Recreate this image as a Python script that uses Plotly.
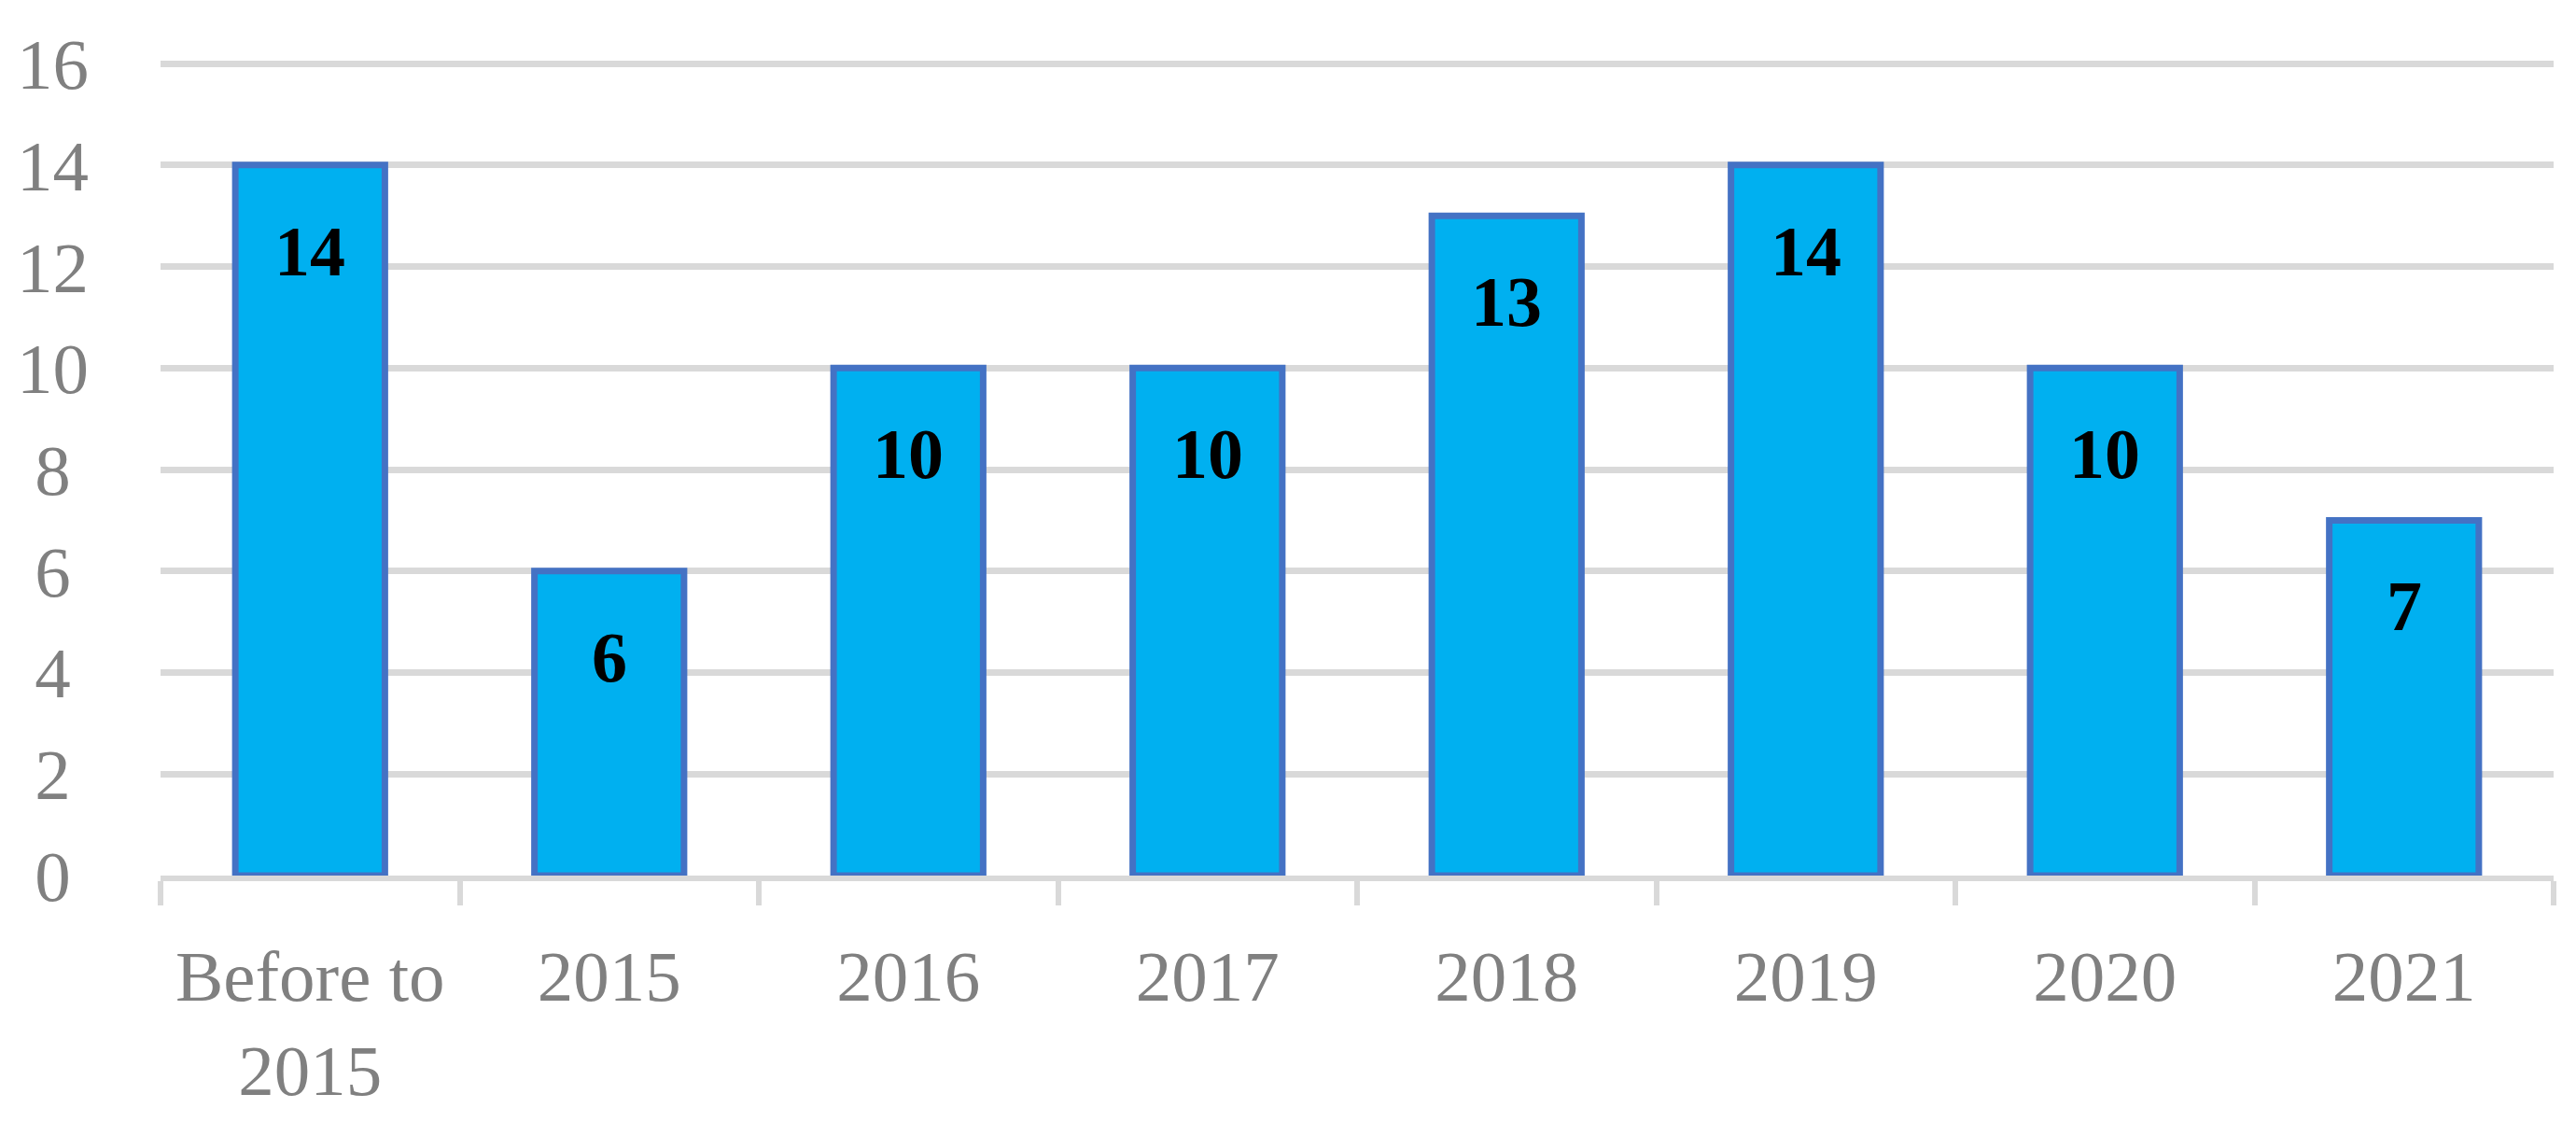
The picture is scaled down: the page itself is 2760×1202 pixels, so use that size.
import plotly.graph_objects as go

categories = ["Before to<br>2015", "2015", "2016", "2017", "2018", "2019", "2020", "2021"]
values = [14, 6, 10, 10, 13, 14, 10, 7]
y_ticks = [0, 2, 4, 6, 8, 10, 12, 14, 16]
# single digits padded with a quarter-em space so labels look centred like the reference
y_ticktext = [str(t) if t >= 10 else str(t) + "\u2005" for t in y_ticks]

FONT = "Liberation Serif, Times New Roman, serif"
GRID = "#D9D9D9"

fig = go.Figure()
fig.add_trace(go.Bar(
    x=categories, y=values,
    marker=dict(color="#00B0F0", line=dict(color="#4472C4", width=7)),
    hoverinfo="skip",
))

for i, v in enumerate(values):
    fig.add_annotation(
        x=i, y=v, text=f"<b>{v}</b>", showarrow=False,
        yanchor="middle", yshift=-92,
        font=dict(family=FONT, size=76, color="#000000"),
    )

fig.update_layout(
    width=2760, height=1202,
    margin=dict(l=172, r=24, t=67, b=255),
    paper_bgcolor="white", plot_bgcolor="white",
    bargap=0.5, showlegend=False,
    font=dict(family=FONT, size=77, color="#808080"),
)
fig.update_xaxes(
    type="category", range=[-0.5, len(categories) - 0.5],
    showline=True, linecolor=GRID, linewidth=6,
    ticks="outside", tickson="boundaries", ticklen=26, tickwidth=6, tickcolor=GRID,
    showgrid=False, ticklabelstandoff=36, tickangle=0,
    tickfont=dict(family=FONT, size=77, color="#808080"),
)
fig.update_yaxes(
    range=[0, 16.02], tickvals=y_ticks, ticktext=y_ticktext,
    showgrid=True, gridcolor=GRID, gridwidth=7,
    zeroline=False, showline=False, ticks="", ticklabelstandoff=76,
    tickfont=dict(family=FONT, size=77, color="#808080"),
)

fig.write_html(
    "out.html",
    config={"displayModeBar": False},
    post_script="document.body.style.margin='0';document.body.style.padding='0';",
)
